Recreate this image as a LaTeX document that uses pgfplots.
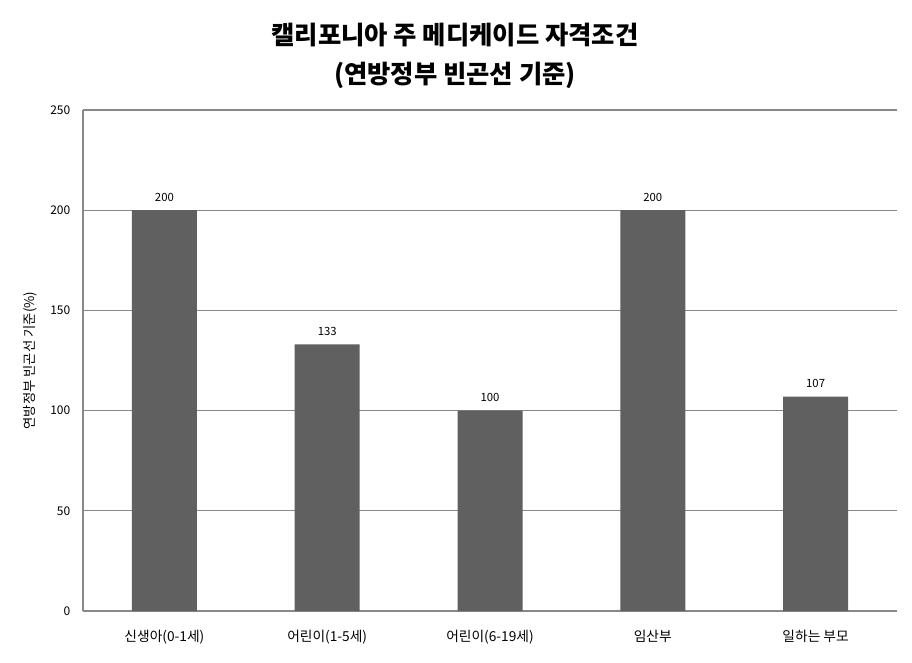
\documentclass[border=0pt]{standalone}
\usepackage{pgfplots}
\pgfplotsset{compat=1.18}
\usepackage{fontspec}
\setmainfont{Noto Sans CJK KR}
\definecolor{barc}{HTML}{606060}
\definecolor{gridc}{HTML}{888888}
\begin{document}
\begin{tikzpicture}[x=1pt,y=1pt]
\path (0,0) rectangle (684,496.5);
\begin{axis}[
  at={(62.25pt,38.25pt)}, anchor=south west,
  scale only axis, width=610.5pt, height=375.75pt,
  xmin=-0.5, xmax=4.5, ymin=0, ymax=250,
  ytick={0,50,...,250},
  xtick={0,1,2,3,4},
  xticklabels={신생아(0-1세), 어린이(1-5세), 어린이(6-19세), 임산부, 일하는 부모},
  axis x line*=bottom, axis y line*=left,
  axis line style={gridc, line width=0.8pt},
  ymajorgrids, grid style={gridc, line width=0.8pt},
  major tick length=0pt,
  tick label style={font=\fontsize{9pt}{10pt}\selectfont, black},
  xticklabel style={font=\fontsize{10.3pt}{11pt}\selectfont, yshift=-11pt},
  yticklabel style={xshift=-6pt},
  /pgf/number format/assume math mode=true,
  clip=false,
  nodes near coords,
  every node near coord/.append style={font=\fontsize{8.5pt}{10pt}\selectfont, black, yshift=3pt},
]
\addplot[ybar, bar width=48.75pt, fill=barc, draw=none] coordinates {(0,200) (1,133) (2,100) (3,200) (4,107)};
\node[font=\bfseries\fontsize{19pt}{22pt}\selectfont] at ([yshift=56.25pt]rel axis cs:0.457,1) {캘리포니아 주 메디케이드 자격조건};
\node[font=\bfseries\fontsize{19pt}{22pt}\selectfont] at ([yshift=26.25pt]rel axis cs:0.457,1) {(연방정부 빈곤선 기준)};
\node[font=\fontsize{10pt}{11pt}\selectfont, rotate=90] at ([xshift=-39.75pt]rel axis cs:0,0.5) {연방정부 빈곤선 기준(\%)};
\end{axis}
\end{tikzpicture}
\end{document}
